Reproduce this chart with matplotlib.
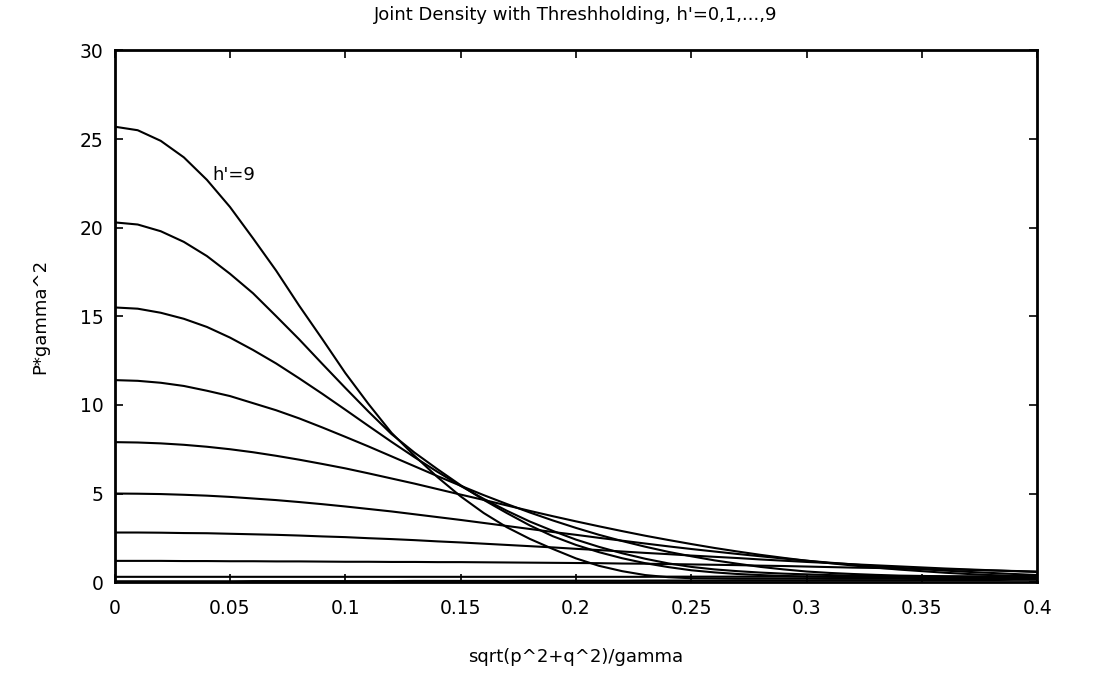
import matplotlib
matplotlib.use("Agg")
import matplotlib.pyplot as plt

# radial coordinate sqrt(p^2+q^2)/gamma, read every 0.01
x_vals = [0.00, 0.01, 0.02, 0.03, 0.04, 0.05, 0.06, 0.07, 0.08, 0.09,
          0.10, 0.11, 0.12, 0.13, 0.14, 0.15, 0.16, 0.17, 0.18, 0.19,
          0.20, 0.21, 0.22, 0.23, 0.24, 0.25, 0.26, 0.27, 0.28, 0.29,
          0.30, 0.31, 0.32, 0.33, 0.34, 0.35, 0.36, 0.37, 0.38, 0.39, 0.40]

h0 = [0.05, 0.05, 0.05, 0.05, 0.05, 0.05, 0.06, 0.06, 0.06, 0.06,
      0.06, 0.06, 0.06, 0.07, 0.07, 0.07, 0.07, 0.07, 0.08, 0.08,
      0.08, 0.08, 0.08, 0.09, 0.09, 0.09, 0.09, 0.10, 0.10, 0.10,
      0.10, 0.11, 0.11, 0.11, 0.11, 0.12, 0.12, 0.12, 0.12, 0.13, 0.13]
h1 = [0.30, 0.30, 0.30, 0.30, 0.30, 0.30, 0.30, 0.30, 0.30, 0.30,
      0.30, 0.30, 0.30, 0.30, 0.30, 0.30, 0.30, 0.30, 0.30, 0.30,
      0.30, 0.30, 0.30, 0.30, 0.31, 0.31, 0.31, 0.31, 0.31, 0.31,
      0.31, 0.31, 0.31, 0.31, 0.31, 0.31, 0.31, 0.31, 0.31, 0.30, 0.30]
h2 = [1.20, 1.20, 1.20, 1.19, 1.19, 1.18, 1.18, 1.17, 1.17, 1.16,
      1.15, 1.15, 1.14, 1.14, 1.13, 1.13, 1.12, 1.11, 1.10, 1.09,
      1.08, 1.07, 1.05, 1.04, 1.02, 1.00, 0.98, 0.96, 0.93, 0.91,
      0.88, 0.85, 0.82, 0.80, 0.77, 0.74, 0.71, 0.69, 0.66, 0.63, 0.60]
h3 = [2.80, 2.80, 2.79, 2.77, 2.76, 2.73, 2.70, 2.67, 2.63, 2.58,
      2.54, 2.48, 2.43, 2.37, 2.30, 2.24, 2.17, 2.10, 2.03, 1.96,
      1.88, 1.81, 1.73, 1.65, 1.58, 1.50, 1.43, 1.36, 1.28, 1.21,
      1.14, 1.08, 1.01, 0.95, 0.89, 0.83, 0.77, 0.72, 0.67, 0.62, 0.57]
h4 = [5.00, 4.99, 4.97, 4.93, 4.88, 4.81, 4.72, 4.63, 4.52, 4.40,
      4.27, 4.13, 3.99, 3.83, 3.67, 3.51, 3.34, 3.17, 3.00, 2.83,
      2.67, 2.50, 2.34, 2.18, 2.02, 1.87, 1.73, 1.59, 1.46, 1.33,
      1.21, 1.10, 1.00, 0.90, 0.81, 0.73, 0.65, 0.58, 0.52, 0.46, 0.40]
h5 = [7.90, 7.88, 7.83, 7.75, 7.64, 7.50, 7.33, 7.13, 6.91, 6.67,
      6.42, 6.14, 5.85, 5.56, 5.25, 4.94, 4.64, 4.33, 4.02, 3.72,
      3.43, 3.15, 2.88, 2.62, 2.38, 2.15, 1.93, 1.73, 1.54, 1.37,
      1.21, 1.07, 0.94, 0.82, 0.71, 0.62, 0.53, 0.46, 0.40, 0.36, 0.33]
h6 = [11.40, 11.36, 11.25, 11.07, 10.80, 10.50, 10.10, 9.70, 9.24, 8.73,
      8.20, 7.66, 7.10, 6.54, 5.98, 5.44, 4.91, 4.41, 3.93, 3.48,
      3.06, 2.67, 2.32, 2.00, 1.71, 1.46, 1.23, 1.04, 0.86, 0.72,
      0.60, 0.52, 0.46, 0.41, 0.37, 0.35, 0.33, 0.32, 0.31, 0.30, 0.30]
h7 = [15.50, 15.43, 15.20, 14.86, 14.40, 13.80, 13.10, 12.34, 11.50, 10.63,
      9.73, 8.82, 7.92, 7.05, 6.22, 5.43, 4.70, 4.03, 3.42, 2.89,
      2.40, 1.99, 1.63, 1.32, 1.06, 0.86, 0.72, 0.62, 0.54, 0.48,
      0.44, 0.40, 0.37, 0.35, 0.33, 0.32, 0.31, 0.30, 0.30, 0.30, 0.30]
h8 = [20.30, 20.18, 19.80, 19.20, 18.40, 17.40, 16.30, 15.01, 13.70, 12.32,
      10.96, 9.63, 8.36, 7.31, 6.37, 5.47, 4.64, 3.90, 3.20, 2.59,
      2.10, 1.69, 1.35, 1.07, 0.85, 0.67, 0.55, 0.46, 0.40, 0.35,
      0.32, 0.30, 0.28, 0.27, 0.27, 0.26, 0.26, 0.25, 0.25, 0.25, 0.25]
h9 = [25.70, 25.50, 24.90, 23.97, 22.70, 21.17, 19.40, 17.58, 15.60, 13.72,
      11.80, 10.06, 8.43, 7.13, 5.92, 4.84, 3.90, 3.10, 2.44, 1.87,
      1.34, 0.92, 0.62, 0.40, 0.28, 0.22, 0.21, 0.20, 0.20, 0.20,
      0.20, 0.20, 0.20, 0.20, 0.20, 0.20, 0.20, 0.20, 0.20, 0.20, 0.20]

curves = [h0, h1, h2, h3, h4, h5, h6, h7, h8, h9]

x_ticks = [0, 0.05, 0.1, 0.15, 0.2, 0.25, 0.3, 0.35, 0.4]
x_tick_labels = ["0", "0.05", "0.1", "0.15", "0.2", "0.25", "0.3", "0.35", "0.4"]
y_ticks = [0, 5, 10, 15, 20, 25, 30]
y_tick_labels = ["0", "5", "10", "15", "20", "25", "30"]

title_text = "Joint Density with Threshholding, h'=0,1,...,9"
x_label = "sqrt(p^2+q^2)/gamma"
y_label = "P*gamma^2"
annot_text = "h'=9"

plt.rcParams['font.family'] = ['DejaVu Sans']

fig = plt.figure(figsize=(11.13, 6.73), dpi=100)
ax = fig.add_axes([0.103, 0.135, 0.829, 0.79])

for c in curves:
    ax.plot(x_vals, c, color="black", linewidth=1.5,
            solid_joinstyle="round", solid_capstyle="round")

ax.set_xlim(0, 0.4)
ax.set_ylim(0, 30)
ax.set_xticks(x_ticks)
ax.set_xticklabels(x_tick_labels)
ax.set_yticks(y_ticks)
ax.set_yticklabels(y_tick_labels)
ax.tick_params(direction="in", top=True, right=True, length=6, width=1.2,
               labelsize=13.5, pad=8)
ax.tick_params(axis="x", pad=12)

for s in ax.spines.values():
    s.set_linewidth(2.0)

ax.set_title(title_text, fontsize=13, pad=22)
ax.set_xlabel(x_label, fontsize=13, labelpad=22)
ax.set_ylabel(y_label, fontsize=13, labelpad=22)

ax.text(0.0425, 23.0, annot_text, fontsize=13, ha="left", va="center")

fig.savefig("out.png", dpi=100, facecolor="white")
